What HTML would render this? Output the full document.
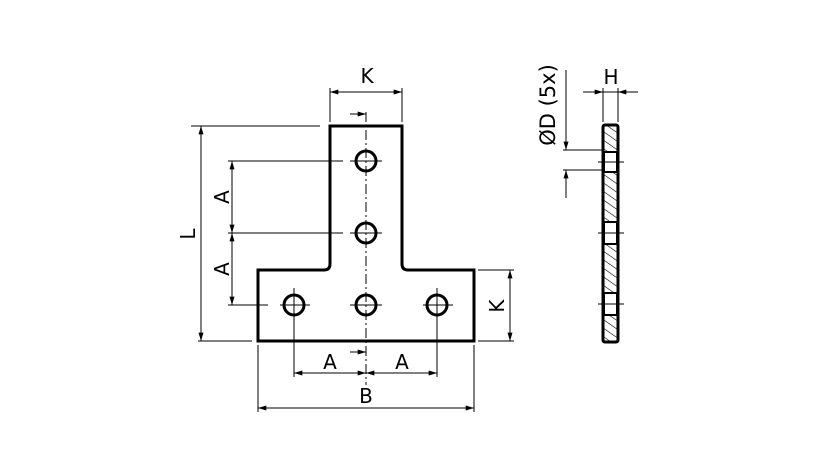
<!DOCTYPE html>
<html><head><style>body{margin:0;background:#fff}svg{display:block}</style></head>
<body>
<svg width="827" height="472" viewBox="0 0 827 472" xmlns="http://www.w3.org/2000/svg" font-family="DejaVu Sans, Liberation Sans, sans-serif" font-size="20">
<defs>
<marker id="a" viewBox="0 0 10 6" refX="10" refY="3" markerWidth="13" markerHeight="5" orient="auto-start-reverse" markerUnits="userSpaceOnUse"><path d="M0,0L10,3L0,6z" fill="#000"/></marker>
<pattern id="h" width="7" height="7" patternUnits="userSpaceOnUse" patternTransform="rotate(-55)"><line x1="0" y1="0" x2="0" y2="7" stroke="#000" stroke-width="1.2"/></pattern>
</defs>
<g fill="none" stroke="#000">
<path d="M330,126H402V264Q402,270 408,270H474V341H258V270H324Q330,270 330,264Z" stroke-width="3"/>
<g stroke-width="3">
<circle cx="366" cy="161" r="10"/><circle cx="366" cy="233" r="10"/><circle cx="366" cy="305" r="10"/>
<circle cx="294" cy="305" r="10"/><circle cx="437" cy="305" r="10"/>
</g>
<g stroke-width="1">
<line x1="366" y1="112" x2="366" y2="385" stroke-dasharray="10,3,2,3"/>
<line x1="294" y1="288" x2="294" y2="377"/><line x1="437" y1="288" x2="437" y2="377"/>
<line x1="280" y1="305" x2="310" y2="305"/><line x1="423" y1="305" x2="453" y2="305"/>
<line x1="350" y1="305" x2="382" y2="305"/><line x1="350" y1="161" x2="382" y2="161"/><line x1="350" y1="233" x2="382" y2="233"/>
<line x1="191" y1="126" x2="320" y2="126"/><line x1="198" y1="341" x2="252" y2="341"/>
<line x1="228" y1="161" x2="343" y2="161"/><line x1="228" y1="233" x2="343" y2="233"/><line x1="228" y1="305" x2="268" y2="305"/>
<line x1="330" y1="88" x2="330" y2="122"/><line x1="402" y1="88" x2="402" y2="122"/>
<line x1="478" y1="270" x2="514" y2="270"/><line x1="478" y1="341" x2="514" y2="341"/>
<line x1="258" y1="345" x2="258" y2="412"/><line x1="474" y1="345" x2="474" y2="412"/>
<line x1="201" y1="126" x2="201" y2="341" marker-start="url(#a)" marker-end="url(#a)"/>
<line x1="232" y1="161" x2="232" y2="233" marker-start="url(#a)" marker-end="url(#a)"/>
<line x1="232" y1="233" x2="232" y2="305" marker-start="url(#a)" marker-end="url(#a)"/>
<line x1="330" y1="92" x2="402" y2="92" marker-start="url(#a)" marker-end="url(#a)"/>
<line x1="350" y1="114" x2="366" y2="114" marker-end="url(#a)"/>
<line x1="510" y1="270" x2="510" y2="341" marker-start="url(#a)" marker-end="url(#a)"/>
<line x1="294" y1="373" x2="366" y2="373" marker-start="url(#a)" marker-end="url(#a)"/>
<line x1="366" y1="373" x2="437" y2="373" marker-start="url(#a)" marker-end="url(#a)"/>
<line x1="350" y1="352" x2="366" y2="352" marker-end="url(#a)"/>
<line x1="258" y1="408" x2="474" y2="408" marker-start="url(#a)" marker-end="url(#a)"/>
</g>
<rect x="603" y="125" width="15" height="217" rx="2" fill="url(#h)" stroke-width="3"/>
<g fill="#fff" stroke-width="2">
<rect x="604" y="152" width="13" height="20"/><rect x="604" y="222" width="13" height="22"/><rect x="604" y="293" width="13" height="22"/>
</g>
<g stroke-width="1">
<line x1="598" y1="162" x2="624" y2="162"/><line x1="598" y1="233" x2="624" y2="233"/><line x1="598" y1="304" x2="624" y2="304"/>
<line x1="603" y1="88" x2="603" y2="122"/><line x1="618" y1="88" x2="618" y2="122"/>
<line x1="583" y1="92" x2="603" y2="92" marker-end="url(#a)"/><line x1="638" y1="92" x2="618" y2="92" marker-end="url(#a)"/>
<line x1="603" y1="92" x2="618" y2="92"/>
<line x1="563" y1="150" x2="603" y2="150"/><line x1="563" y1="170" x2="603" y2="170"/>
<line x1="566" y1="70" x2="566" y2="150" marker-end="url(#a)"/><line x1="566" y1="198" x2="566" y2="170" marker-end="url(#a)"/>
</g>
</g>
<g fill="#000" text-anchor="middle">
<text x="367" y="83">K</text>
<text x="188" y="241" transform="rotate(-90 188 234)">L</text>
<text x="222" y="204" transform="rotate(-90 222 197)">A</text>
<text x="222" y="276" transform="rotate(-90 222 269)">A</text>
<text x="497" y="313" transform="rotate(-90 497 306)">K</text>
<text x="330" y="369">A</text>
<text x="402" y="369">A</text>
<text x="366" y="403">B</text>
<text x="611" y="84">H</text>
<text x="555" y="119" font-size="21" transform="rotate(-90 548 112)">ØD (5x)</text>
</g>
</svg>
</body></html>
